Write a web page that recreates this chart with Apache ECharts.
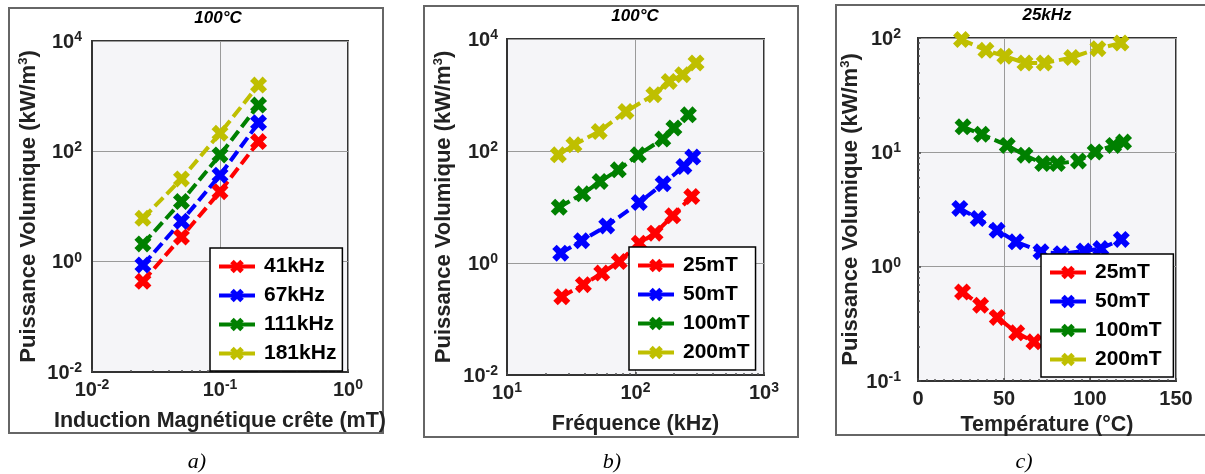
<!DOCTYPE html>
<html><head><meta charset="utf-8">
<script src="https://cdn.jsdelivr.net/npm/echarts@6/dist/echarts.min.js"></script>
<style>html,body{margin:0;padding:0;background:#fff}#c{width:1205px;height:474px}</style>
</head><body><div id="c"></div>
<script>
// ---- Panel a) : P vs B, 100°C
const aInduction = [0.025, 0.05, 0.1, 0.2];
const a41 = [0.44, 2.8, 18.6, 150];
const a67 = [0.87, 5.4, 37, 330];
const a111 = [2.1, 12.3, 86, 690];
const a181 = [6.1, 31.6, 213, 1590];
const aNames = ['41kHz', '67kHz', '111kHz', '181kHz'];

// ---- Panel b) : P vs f, 100°C
const bFreq25 = [26.7, 39.3, 54.6, 74.8, 107, 142, 195, 274];
const bP25 = [0.25, 0.41, 0.66, 1.06, 2.26, 3.41, 6.95, 15.4];
const bFreq50 = [26.2, 38.1, 59.7, 107, 164, 238, 279];
const bP50 = [1.5, 2.5, 4.6, 12, 26, 52.9, 77.8];
const bFreq100 = [25.5, 38.8, 53, 73.5, 105, 163, 199, 258];
const bP100 = [9.9, 17.2, 28.5, 46.1, 85.5, 163, 257, 443];
const bFreq200 = [25.1, 33.2, 52.2, 84.3, 139, 183, 233, 296];
const bP200 = [85.5, 129, 223, 508, 1009, 1745, 2300, 3725];
const bNames = ['25mT', '50mT', '100mT', '200mT'];

// ---- Panel c) : P vs T, 25kHz
const cT25 = [25.9, 36.4, 46.1, 57.4, 67.4];
const cP25 = [0.60, 0.46, 0.36, 0.264, 0.22];
const cT50 = [24.3, 35, 46, 57, 71.5, 83.2, 96.6, 106.3, 118.2];
const cP50 = [3.23, 2.64, 2.08, 1.65, 1.35, 1.30, 1.37, 1.44, 1.73];
const cT100 = [26.2, 37, 51.9, 62.2, 72.5, 81, 93.3, 103, 113.7, 119.5];
const cP100 = [16.7, 14.4, 11.5, 9.44, 7.98, 7.98, 8.41, 10.07, 11.5, 12.3];
const cT200 = [25.3, 39.5, 50.5, 62.2, 73.4, 89.4, 104.6, 118.0];
const cP200 = [97, 78, 69.2, 60.4, 60.4, 67.5, 80.7, 90.4];
const cNames = ['25mT ', '50mT ', '100mT ', '200mT '];

const titles = ['100°C', '100°C', '25kHz'];
const captions = ['a)', 'b)', 'c)'];
const xNames = ['Induction Magnétique crête (mT)', 'Fréquence (kHz)', 'Température (°C)'];

const COLORS = ['#ff0000', '#0000ff', '#008000', '#bfbf00'];
const FONT = '"Liberation Sans", Arial, sans-serif';
const X_PATH = 'path://M0,2.6L2.6,0L5,2.4L7.4,0L10,2.6L7.6,5L10,7.4L7.4,10L5,7.6L2.6,10L0,7.4L2.4,5Z';

function mk(name, xs, ys, color, gi) {
  return {
    type: 'line', name, xAxisIndex: gi, yAxisIndex: gi,
    data: xs.map((x, i) => [x, ys[i]]),
    symbol: X_PATH, symbolSize: 17, showSymbol: true,
    itemStyle: { color }, lineStyle: { color, width: 4, type: [12, 5] },
    animation: false, z: 3
  };
}

const tickRich = {
  b: { fontSize: 20, fontWeight: 'bold', color: '#222', fontFamily: FONT, verticalAlign: 'bottom' },
  s: { fontSize: 14, fontWeight: 'bold', color: '#222', fontFamily: FONT, verticalAlign: 'bottom', padding: [0, 0, 8, 0] }
};
const nameRich = {
  n: { fontSize: 22, fontWeight: 'bold', color: '#222', fontFamily: FONT, verticalAlign: 'bottom' },
  ns: { fontSize: 13, fontWeight: 'bold', color: '#222', fontFamily: FONT, verticalAlign: 'bottom', padding: [0, 0, 10, 0] }
};
function pow10(v, evenOnly) {
  const e = Math.round(Math.log10(v));
  if (evenOnly && e % 2 !== 0) return '';
  return '{b|10}{s|' + e + '}';
}
const frameLine = { show: true, lineStyle: { color: '#333', width: 2 } };
const splitCol = { show: true, lineStyle: { color: '#9a9a9a', width: 1 } };
const splitAlt = { show: true, lineStyle: { color: ['#9a9a9a', 'rgba(0,0,0,0)'], width: 1 } };
const tickIn = { show: true, inside: true, length: 3, lineStyle: { color: '#444', width: 1.5 } };
const noTick = { show: false };
function minor(n) { return { show: true, splitNumber: n, length: 2, lineStyle: { color: '#555', width: 1.5 } }; }

const grids = [
  { left: 92, top: 41, width: 256, height: 331 },
  { left: 507, top: 39, width: 257, height: 336 },
  { left: 918, top: 38, width: 258, height: 343 }
].map(g => Object.assign(g, { show: true, backgroundColor: '#f5f5f8', borderColor: '#333', borderWidth: 2, containLabel: false }));

const xAxes = [
  { gridIndex: 0, type: 'log', logBase: 10, min: 0.01, max: 1,
    axisLabel: { formatter: v => pow10(v, false), rich: tickRich, margin: 6 },
    axisTick: tickIn, minorTick: minor(9),
    name: xNames[0], nameGap: 38 },
  { gridIndex: 1, type: 'log', logBase: 10, min: 10, max: 1000,
    axisLabel: { formatter: v => pow10(v, false), rich: tickRich, margin: 6 },
    axisTick: tickIn, minorTick: minor(9),
    name: xNames[1], nameGap: 38 },
  { gridIndex: 2, type: 'value', min: 0, max: 150, interval: 50,
    axisLabel: { fontSize: 20, fontWeight: 'bold', color: '#222', fontFamily: FONT, margin: 8 },
    axisTick: tickIn, minorTick: minor(10),
    name: xNames[2], nameGap: 33 }
].map(a => Object.assign(a, {
  nameLocation: 'middle', axisLine: frameLine, splitLine: splitCol,
  nameTextStyle: { fontSize: 21.5, fontWeight: 'bold', color: '#222', fontFamily: FONT }
}));

const yName = '{n|Puissance Volumique (kW/m}{ns|3}{n|)}';
const yAxes = [
  { gridIndex: 0, type: 'log', logBase: 10, min: 0.01, max: 10000,
    axisLabel: { formatter: v => pow10(v, true), rich: tickRich, margin: 10 },
    axisTick: noTick, splitLine: splitAlt, nameGap: 52 },
  { gridIndex: 1, type: 'log', logBase: 10, min: 0.01, max: 10000,
    axisLabel: { formatter: v => pow10(v, true), rich: tickRich, margin: 9 },
    axisTick: noTick, splitLine: splitAlt, nameGap: 52 },
  { gridIndex: 2, type: 'log', logBase: 10, min: 0.1, max: 100,
    axisLabel: { formatter: v => pow10(v, false), rich: tickRich, margin: 17 },
    axisTick: tickIn, minorTick: minor(9), splitLine: splitCol, nameGap: 50 }
].map(a => Object.assign(a, {
  name: yName, nameLocation: 'middle', axisLine: frameLine,
  nameTextStyle: { rich: nameRich }
}));

const series = [
  mk(aNames[0], aInduction, a41, COLORS[0], 0),
  mk(aNames[1], aInduction, a67, COLORS[1], 0),
  mk(aNames[2], aInduction, a111, COLORS[2], 0),
  mk(aNames[3], aInduction, a181, COLORS[3], 0),
  mk(bNames[0], bFreq25, bP25, COLORS[0], 1),
  mk(bNames[1], bFreq50, bP50, COLORS[1], 1),
  mk(bNames[2], bFreq100, bP100, COLORS[2], 1),
  mk(bNames[3], bFreq200, bP200, COLORS[3], 1),
  mk(cNames[0], cT25, cP25, COLORS[0], 2),
  mk(cNames[1], cT50, cP50, COLORS[1], 2),
  mk(cNames[2], cT100, cP100, COLORS[2], 2),
  mk(cNames[3], cT200, cP200, COLORS[3], 2)
];

function legend(data, left, top) {
  return {
    data, left, top, orient: 'vertical', selectedMode: false,
    padding: [8, 6, 7, 7], itemWidth: 36, itemHeight: 17, itemGap: 8,
    backgroundColor: '#fff', borderColor: '#000', borderWidth: 1.5, borderRadius: 0,
    lineStyle: { type: 'solid', width: 4 },
    textStyle: { fontSize: 21, fontWeight: 'bold', color: '#000', fontFamily: FONT, padding: [0, 0, 0, 4] },
    z: 10
  };
}

const frames = [[9, 8, 374, 425], [424, 6, 374, 431], [836, 5, 372, 430]];
const titlePos = [[218, 18], [635, 16], [1047, 15]];
const capPos = [[197, 462], [612, 462], [1024, 462]];
const graphic = [];
frames.forEach(f => graphic.push({ type: 'rect', silent: true, z: 0,
  shape: { x: f[0], y: f[1], width: f[2], height: f[3] },
  style: { fill: 'none', stroke: '#666', lineWidth: 2 } }));
titles.forEach((t, i) => graphic.push({ type: 'text', silent: true, x: titlePos[i][0], y: titlePos[i][1],
  style: { text: t, fontSize: 17, fontWeight: 'bold', fontStyle: 'italic', fontFamily: FONT, fill: '#000', align: 'center', verticalAlign: 'middle' } }));
captions.forEach((t, i) => graphic.push({ type: 'text', silent: true, x: capPos[i][0], y: capPos[i][1],
  style: { text: t, fontSize: 22, fontStyle: 'italic', fontFamily: '"Liberation Serif", "Times New Roman", serif', fill: '#000', align: 'center', verticalAlign: 'middle' } }));

const chart = echarts.init(document.getElementById('c'), null, { renderer: 'canvas', width: 1205, height: 474 });
chart.setOption({
  backgroundColor: '#fff',
  animation: false,
  grid: grids,
  xAxis: xAxes,
  yAxis: yAxes,
  legend: [legend(aNames, 210, 248), legend(bNames, 629, 247), legend(cNames, 1041, 254)],
  series,
  graphic
});
</script>
</body></html>
